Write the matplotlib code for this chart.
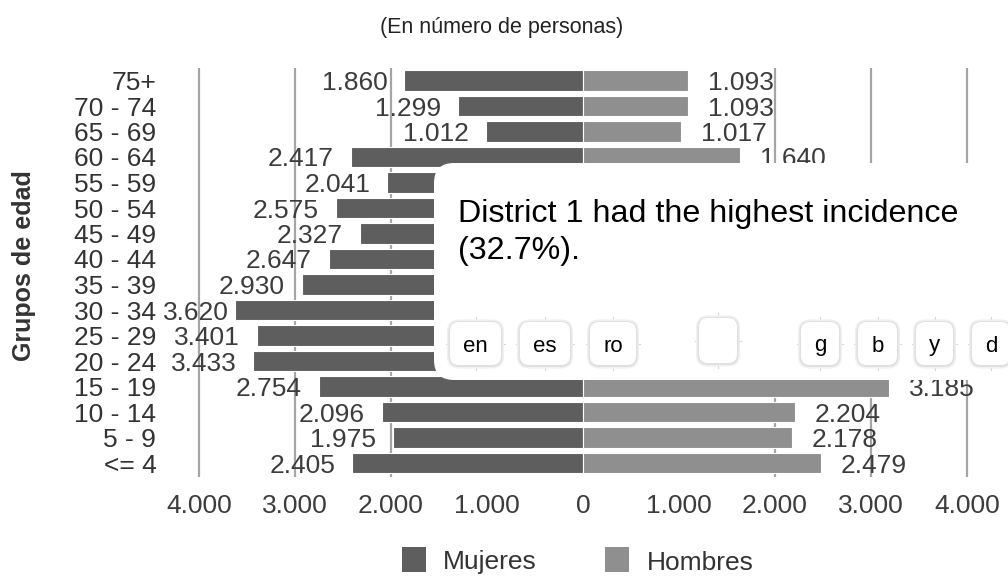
import matplotlib
matplotlib.use("Agg")
import matplotlib.pyplot as plt
from matplotlib.patches import FancyBboxPatch, Rectangle

# ---------------- data ----------------
age_groups = ["75+", "70 - 74", "65 - 69", "60 - 64", "55 - 59", "50 - 54",
              "45 - 49", "40 - 44", "35 - 39", "30 - 34", "25 - 29", "20 - 24",
              "15 - 19", "10 - 14", "5 - 9", "<= 4"]
mujeres = [1860, 1299, 1012, 2417, 2041, 2575, 2327, 2647, 2930, 3620, 3401,
           3433, 2754, 2096, 1975, 2405]
# values of rows 55-59 .. 20-24 are hidden behind the popup in the reference (estimated)
hombres = [1093, 1093, 1017, 1640, 1950, 2300, 2200, 2450, 2800, 3300, 3200,
           3250, 3185, 2204, 2178, 2479]
# which Hombres value labels are visible (the others sit fully under the popup)
hombres_label_visible = [True, True, True, True, False, False, False, False,
                         False, False, False, False, True, True, True, True]
xticks = [-4000, -3000, -2000, -1000, 0, 1000, 2000, 3000, 4000]
xtick_labels = ["4.000", "3.000", "2.000", "1.000", "0", "1.000", "2.000", "3.000", "4.000"]
grid_at = [-4000, -3000, -2000, 2000, 3000, 4000]
title = "(En número de personas)"
ylabel = "Grupos de edad"
legend_labels = ["Mujeres", "Hombres"]
popup_text = "District 1 had the highest incidence\n(32.7%)."
popup_buttons = ["en", "es", "ro", "", "g", "b", "y", "d"]

# ---------------- style ----------------
W, H = 1008, 578
C_MUJ = "#5e5e5e"
C_HOM = "#8f8f8f"
TXT = "#3c3c3c"
NARROW = ["Liberation Sans", "DejaVu Sans"]
ARIAL = ["Liberation Sans", "DejaVu Sans"]
FS = 19

def fmt(v):
    return f"{v:,}".replace(",", ".")

fig = plt.figure(figsize=(W / 100, H / 100), dpi=100)
fig.patch.set_facecolor("white")

# axes placement in pixels
px_per_unit = 0.096
x0_px = 583
half = 4300
row0_px, row_step = 80.5, 25.5
ytop, ybot = -0.5, 15.55
top_px = row0_px + ytop * row_step
bot_px = row0_px + ybot * row_step
left_px = x0_px - half * px_per_unit
ax = fig.add_axes([left_px / W, 1 - bot_px / H, 2 * half * px_per_unit / W, (bot_px - top_px) / H])
ax.set_xlim(-half, half)
ax.set_ylim(ybot, ytop)

ypos = list(range(len(age_groups)))
neg_muj = [-v for v in mujeres]
ax.barh(ypos, neg_muj, height=0.8, color=C_MUJ, edgecolor="white", linewidth=0.8, zorder=2)
ax.barh(ypos, hombres, height=0.8, color=C_HOM, edgecolor="white", linewidth=0.8, zorder=2)

for g in grid_at:
    ax.axvline(g, color="#a5a5a5", linewidth=1.6, zorder=0)

muj_labels = []
for y, v in zip(ypos, mujeres):
    t = ax.annotate(fmt(v), xy=(-v, y), xytext=(-17, 0), textcoords="offset pixels",
                    ha="right", va="center_baseline", fontsize=FS, color=TXT,
                    family=NARROW, zorder=3)
    muj_labels.append(t)
for y, v, vis in zip(ypos, hombres, hombres_label_visible):
    if vis:
        ax.annotate(fmt(v), xy=(v, y), xytext=(20, 0), textcoords="offset pixels",
                    ha="left", va="center_baseline", fontsize=FS, color=TXT,
                    family=NARROW, zorder=3)

ax.set_xticks(xticks)
ax.set_xticklabels(xtick_labels, fontsize=FS, color=TXT, family=NARROW)
ax.set_yticks(ypos)
ax.set_yticklabels(age_groups, fontsize=FS, color="#333333", family=NARROW)
ax.tick_params(axis="both", length=0)
ax.tick_params(axis="y", pad=10)
ax.tick_params(axis="x", pad=12)
for s in ax.spines.values():
    s.set_visible(False)
ax.set_facecolor("none")

# keep long Mujeres labels clear of the category labels (as in the reference)
fig.canvas.draw()
renderer = fig.canvas.get_renderer()
min_left = 163
for t in muj_labels:
    bb = t.get_window_extent(renderer)
    if bb.x0 < min_left:
        t.set_position((-17 + (min_left - bb.x0), 0))

# overlay axes in pixel coordinates
ov = fig.add_axes([0, 0, 1, 1], zorder=10)
ov.set_xlim(0, W)
ov.set_ylim(H, 0)
ov.axis("off")
ov.patch.set_alpha(0)

ov.text(502, 28, title, ha="center", va="center", fontsize=15.5, color="#222222", family=ARIAL)
ov.text(24, 266, ylabel, rotation=90, ha="center", va="center", fontsize=18,
        fontweight="bold", color="#333333", family=NARROW)

# legend
for (sx, tx), lab, col in zip([(402, 443), (605, 647)], legend_labels, [C_MUJ, C_HOM]):
    ov.add_patch(Rectangle((sx, 547), 24, 25, facecolor=col, edgecolor="none"))
    ov.text(tx, 560, lab, ha="left", va="center_baseline", fontsize=FS, color="#333333", family=NARROW)

# popup
ov.add_patch(FancyBboxPatch((434, 163), 620, 217, boxstyle="round,pad=0,rounding_size=20",
                            facecolor="white", edgecolor="none", zorder=5))
ov.text(458, 222, popup_text.split("\n")[0], ha="left", va="baseline", fontsize=23.2,
        color="black", family=ARIAL, zorder=6)
ov.text(458, 259, popup_text.split("\n")[1], ha="left", va="baseline", fontsize=23.2,
        color="black", family=ARIAL, zorder=6)

btn_x = [(450, 501), (520, 570), (590, 636), (699, 737), (801, 839), (858, 897), (916, 953), (972, 1010)]
for lab, (bx0, bx1) in zip(popup_buttons, btn_x):
    by0, by1 = (318, 363) if lab == "" else (322, 365)
    cx, cy = (bx0 + bx1) / 2, (by0 + by1) / 2
    # faint cross marks
    ov.plot([cx, cx], [by0 - 5, by1 + 5], color="#d5d5d5", lw=0.8, zorder=6)
    ov.plot([bx0 - 4, bx1 + 4], [cy, cy], color="#d5d5d5", lw=0.8, zorder=6)
    for grow, col, a in [(3, "#f0f0f0", 1), (1.5, "#e0e0e0", 1)]:
        ov.add_patch(FancyBboxPatch((bx0 - grow, by0 - grow + 0.5), bx1 - bx0 + 2 * grow, by1 - by0 + 2 * grow,
                                    boxstyle="round,pad=0,rounding_size=%g" % (9 + grow),
                                    facecolor=col, edgecolor="none", alpha=a, zorder=6.5))
    ov.add_patch(FancyBboxPatch((bx0, by0), bx1 - bx0, by1 - by0,
                                boxstyle="round,pad=0,rounding_size=9",
                                facecolor="white", edgecolor="none", zorder=7))
    if lab:
        ov.text(cx, cy, lab, ha="center", va="center_baseline", fontsize=16,
                color="black", family=ARIAL, zorder=8)

fig.savefig("out.png", dpi=100, facecolor="white")
